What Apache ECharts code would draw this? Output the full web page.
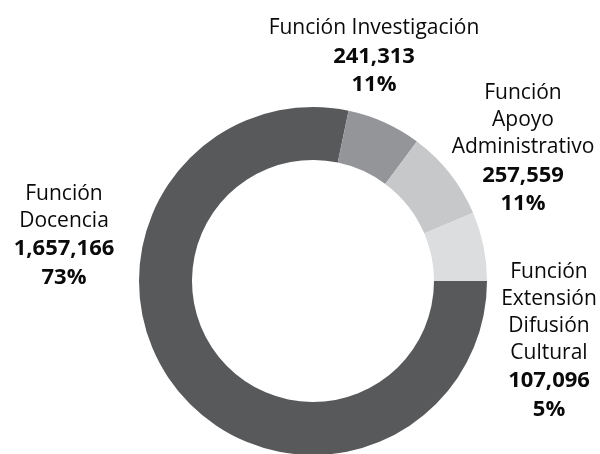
<!DOCTYPE html>
<html>
<head>
<meta charset="utf-8">
<script src="https://cdn.jsdelivr.net/npm/echarts@6/dist/echarts.min.js"></script>
<style>
  html, body { margin: 0; padding: 0; background: #fff; }
  #chart { width: 600px; height: 454px; }
</style>
</head>
<body>
<div id="chart"></div>
<script>
// categorias (en orden de dibujo, sentido horario desde las 3 en punto)
var names = [
  'Función\nDocencia',
  'Función Investigación',
  'Función\nApoyo\nAdministrativo',
  'Función\nExtensión\nDifusión\nCultural'
];
// montos que aparecen en las etiquetas
var amounts = [1657166, 241313, 257559, 107096];
// tamaño de cada rebanada tal como está dibujada (porcentaje del círculo)
var sliceShare = [78.2, 6.9, 8.4, 6.4];
var colors = ['#58595b', '#939598', '#c7c8ca', '#dcddde'];

// posición del centro de cada bloque de etiqueta
var labelPos = [[64, 236], [374, 57], [523, 149], [549, 341]];

var total = amounts.reduce(function (a, b) { return a + b; }, 0);

function fmt(v) {
  return v.toString().replace(/\B(?=(\d{3})+(?!\d))/g, ',');
}

var chart = echarts.init(document.getElementById('chart'));
chart.setOption({
  animation: false,
  series: [{
    type: 'pie',
    center: [313, 281],
    radius: [121, 174],
    startAngle: 0,
    clockwise: true,
    silent: true,
    data: names.map(function (n, i) {
      return { name: n, value: sliceShare[i], itemStyle: { color: colors[i] } };
    }),
    labelLine: { show: false },
    label: {
      show: true,
      position: 'outside',
      overflow: 'none',
      width: 300,
      formatter: function (p) {
        var i = p.dataIndex;
        var lines = names[i].split('\n').map(function (s) { return '{n|' + s + '}'; });
        lines.push('{b|' + fmt(amounts[i]) + '}');
        lines.push('{b|' + Math.round(amounts[i] / total * 100) + '%}');
        return lines.join('\n');
      },
      rich: {
        n: { fontFamily: 'Open Sans', fontSize: 21, color: '#0a0a0a', lineHeight: 27, align: 'center' },
        b: { fontFamily: 'Open Sans', fontSize: 22, fontWeight: 'bold', color: '#0a0a0a', lineHeight: 28.5, align: 'center' }
      }
    },
    labelLayout: function (params) {
      var pos = labelPos[params.dataIndex];
      return { x: pos[0], y: pos[1], align: 'center', verticalAlign: 'middle' };
    }
  }]
});
</script>
</body>
</html>
